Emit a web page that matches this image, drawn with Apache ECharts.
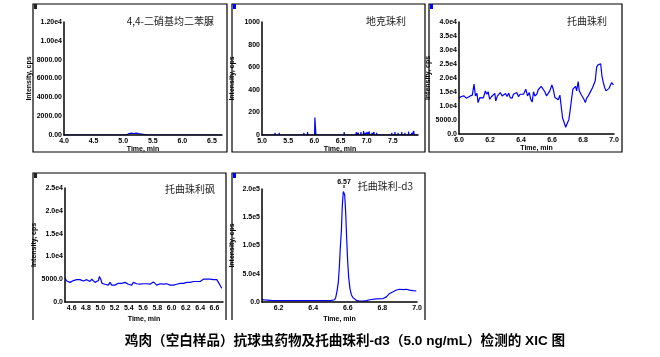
<!DOCTYPE html>
<html><head><meta charset="utf-8">
<script src="https://cdn.jsdelivr.net/npm/echarts@6/dist/echarts.min.js"></script>
<style>html,body{margin:0;padding:0;background:#fff}#c{width:660px;height:357px}</style>
</head><body><div id="c"></div>
<script>
// ---------- data ----------
const names = ['4,4-二硝基均二苯脲', '地克珠利', '托曲珠利', '托曲珠利砜', '托曲珠利-d3'];
const chartTitle = '鸡肉（空白样品）抗球虫药物及托曲珠利-d3（5.0 ng/mL）检测的 XIC 图';

// panel 1: 4,4-dinitrocarbanilide
const t1 = [4.0, 4.515, 4.52, 4.525, 4.765, 4.77, 4.775,
  5.055, 5.06, 5.1, 5.14, 5.18, 5.22, 5.26, 5.265,
  5.405, 5.41, 5.415, 5.595, 5.6, 5.605, 5.645, 5.65, 5.655,
  5.725, 5.73, 5.735, 5.775, 5.78, 5.785, 5.905, 5.91, 5.915,
  5.945, 5.95, 5.955, 5.985, 5.99, 5.995, 6.025, 6.03, 6.035,
  6.185, 6.19, 6.195, 6.265, 6.27, 6.275, 6.355, 6.36, 6.365,
  6.495, 6.5, 6.505, 6.67];
const v1 = [0, 0, 150, 0, 0, 150, 0,
  0, 200, 150, 200, 150, 200, 150, 0,
  0, 150, 0, 0, 150, 0, 0, 150, 0,
  0, 200, 0, 0, 150, 0, 0, 150, 0,
  0, 200, 0, 0, 150, 0, 0, 150, 0,
  0, 150, 0, 0, 150, 0, 0, 150, 0,
  0, 200, 0, 0];

// panel 2: diclazuril
const t2 = [5.0, 5.245, 5.25, 5.255, 5.325, 5.33, 5.335, 5.355, 5.36, 5.365,
  5.515, 5.52, 5.525, 5.795, 5.8, 5.805, 5.865, 5.87, 5.875, 5.915, 5.92, 5.925,
  6.005, 6.01, 6.025, 6.03,
  6.155, 6.16, 6.165, 6.235, 6.24, 6.245, 6.405, 6.41, 6.415, 6.475, 6.48, 6.485,
  6.565, 6.57, 6.575, 6.595, 6.6, 6.605,
  6.795, 6.8, 6.805, 6.835, 6.84, 6.845, 6.885, 6.89, 6.895, 6.935, 6.94, 6.945,
  6.965, 6.97, 6.975, 7.005, 7.01, 7.015, 7.045, 7.05, 7.055, 7.095, 7.1, 7.105,
  7.135, 7.14, 7.145, 7.185, 7.19, 7.195, 7.285, 7.29, 7.295,
  7.475, 7.48, 7.485, 7.535, 7.54, 7.545, 7.595, 7.6, 7.605, 7.665, 7.67, 7.675,
  7.725, 7.73, 7.735, 7.795, 7.8, 7.805, 7.855, 7.86, 7.865, 7.895, 7.9, 7.905, 7.98];
const v2 = [0, 0, 20, 0, 0, 20, 0, 0, 15, 0,
  0, 15, 0, 0, 20, 0, 0, 25, 0, 0, 15, 0,
  0, 155, 150, 0,
  0, 15, 0, 0, 15, 0, 0, 15, 0, 0, 15, 0,
  0, 25, 0, 0, 15, 0,
  0, 25, 0, 0, 20, 0, 0, 25, 0, 0, 35, 0,
  0, 20, 0, 0, 25, 0, 0, 30, 0, 0, 20, 0,
  0, 25, 0, 0, 20, 0, 0, 15, 0,
  0, 20, 0, 0, 25, 0, 0, 20, 0, 0, 25, 0,
  0, 20, 0, 0, 30, 0, 0, 20, 0, 0, 35, 0, 0];

// panel 3: toltrazuril
const t3 = [6.000, 6.015, 6.032, 6.047, 6.058, 6.073, 6.086, 6.097, 6.106, 6.116,
  6.123, 6.134, 6.144, 6.157, 6.170, 6.179, 6.188, 6.198, 6.209, 6.220,
  6.231, 6.237, 6.248, 6.256, 6.267, 6.278, 6.289, 6.300, 6.310, 6.321,
  6.330, 6.343, 6.351, 6.362, 6.373, 6.384, 6.394, 6.403, 6.416, 6.431,
  6.442, 6.453, 6.463, 6.472, 6.481, 6.489, 6.502, 6.511, 6.522, 6.530,
  6.541, 6.554, 6.565, 6.575, 6.586, 6.599, 6.608, 6.619, 6.629, 6.640,
  6.651, 6.659, 6.668, 6.679, 6.688, 6.698, 6.709, 6.718, 6.726, 6.735,
  6.744, 6.752, 6.759, 6.769, 6.776, 6.787, 6.795, 6.806, 6.815, 6.823,
  6.834, 6.843, 6.851, 6.862, 6.871, 6.879, 6.888, 6.897, 6.905, 6.914,
  6.922, 6.931, 6.940, 6.948, 6.959, 6.968, 6.976, 6.985, 6.996];
const v3 = [12800, 13400, 13600, 12800, 12400, 13600, 13900, 17800, 13600, 14500,
  11200, 13000, 12400, 12900, 15400, 14200, 15100, 12400, 13300, 13000,
  14500, 11800, 13600, 13000, 14800, 13600, 13000, 14500, 13400, 14600,
  13000, 12800, 14200, 14000, 14800, 13300, 14200, 14500, 14200, 16000,
  13600, 14800, 12400, 11400, 15100, 13600, 14200, 15800, 15400, 17000,
  16300, 15100, 13600, 14200, 15400, 17500, 16000, 13000, 13400, 12200,
  13900, 10000, 5800, 4000, 2400, 3000, 5200, 8800, 12400, 16000,
  16600, 17000, 15400, 18700, 15400, 14200, 13600, 12400, 11200, 12700,
  13600, 14600, 15400, 16600, 16300, 19000, 23900, 24700, 24500, 25100,
  20800, 18400, 16600, 15400, 15400, 16300, 17000, 18400, 17500];

// panel 4: toltrazuril sulfone
const t4 = [4.507, 4.530, 4.553, 4.577, 4.600, 4.623, 4.647, 4.670, 4.693, 4.717,
  4.740, 4.764, 4.787, 4.810, 4.834, 4.857, 4.880, 4.904, 4.927, 4.950,
  4.974, 4.988, 5.007, 5.025, 5.044, 5.067, 5.091, 5.114, 5.137, 5.161,
  5.184, 5.207, 5.231, 5.254, 5.278, 5.301, 5.324, 5.348, 5.371, 5.394,
  5.418, 5.441, 5.464, 5.488, 5.511, 5.535, 5.558, 5.581, 5.605, 5.628,
  5.651, 5.675, 5.698, 5.721, 5.745, 5.768, 5.792, 5.815, 5.838, 5.862,
  5.885, 5.908, 5.932, 5.955, 5.979, 6.002, 6.025, 6.049, 6.072, 6.095,
  6.119, 6.142, 6.165, 6.189, 6.212, 6.236, 6.259, 6.282, 6.306, 6.329,
  6.352, 6.376, 6.399, 6.422, 6.446, 6.469, 6.493, 6.516, 6.539, 6.563,
  6.586, 6.609, 6.633, 6.656, 6.679, 6.703];
const v4 = [5200, 4600, 4500, 4300, 4600, 4700, 4500, 4900, 4600, 4900,
  4700, 4600, 4700, 4900, 4700, 4500, 5000, 4900, 4300, 4500,
  4700, 5600, 5000, 4100, 4400, 3900, 4100, 3700, 4300, 3700,
  4000, 3700, 4000, 4100, 3900, 4100, 4000, 4300, 4000, 3900,
  4100, 3700, 4300, 4100, 4000, 4100, 3900, 4100, 4000, 4100,
  4000, 4100, 3900, 4000, 4400, 4100, 3700, 4100, 4000, 4100,
  3900, 4100, 4000, 4000, 3700, 3900, 3700, 4000, 3900, 4000,
  4100, 4000, 4100, 4100, 4300, 4100, 4300, 4100, 4500, 4300,
  4500, 4700, 4500, 4700, 5000, 4600, 5000, 5400, 5000, 5200,
  4900, 4700, 4900, 4300, 4000, 3000];

// panel 5: toltrazuril-d3
const t5 = [6.104, 6.120, 6.150, 6.167, 6.200, 6.250, 6.300, 6.350, 6.400, 6.450,
  6.500, 6.524, 6.530, 6.538, 6.545, 6.551, 6.557, 6.563, 6.568, 6.574,
  6.578, 6.582, 6.588, 6.593, 6.599, 6.605, 6.613, 6.621, 6.630, 6.649,
  6.669, 6.688, 6.707, 6.727, 6.765, 6.804, 6.823, 6.842, 6.862, 6.881,
  6.900, 6.919, 6.939, 6.958, 6.977, 6.996];
const v5 = [4300, 3600, 3000, 2400, 2400, 2400, 2400, 2400, 2400, 2400,
  2400, 4000, 7800, 19700, 34600, 61500, 97300, 127000, 168900, 195700,
  199000, 189700, 156900, 115200, 73400, 43600, 22700, 12500, 7800, 3000,
  1800, 1500, 2500, 4000, 5500, 6100, 9100, 15200, 18300, 21300,
  22600, 22000, 22600, 21000, 20000, 19500];
const peakLabel = '6.57';

// tick values
const xTicks1 = [4.0, 4.5, 5.0, 5.5, 6.0, 6.5];
const xTicks2 = [5.0, 5.5, 6.0, 6.5, 7.0, 7.5];
const xTicks3 = [6.0, 6.2, 6.4, 6.6, 6.8, 7.0];
const xTicks4 = [4.6, 4.8, 5.0, 5.2, 5.4, 5.6, 5.8, 6.0, 6.2, 6.4, 6.6];
const xTicks5 = [6.2, 6.4, 6.6, 6.8, 7.0];
const yTicks1 = [0, 2000, 4000, 6000, 8000, 10000, 12000];
const yTicks2 = [0, 200, 400, 600, 800, 1000];
const yTicks3 = [0, 5000, 10000, 15000, 20000, 25000, 30000, 35000, 40000];
const yTicks4 = [0, 5000, 10000, 15000, 20000, 25000];
const yTicks5 = [0, 50000, 100000, 150000, 200000];

// ---------- chart ----------
const F = '"Liberation Sans", Arial, sans-serif';
const CJK = '"Noto Sans CJK SC", "Liberation Sans", sans-serif';
const fmtY1 = v => v >= 1e4 ? (v / 1e4).toFixed(2) + 'e4' : v.toFixed(2);
const fmtY2 = v => String(Math.round(v));
const fmtY3 = v => v >= 1e4 ? (v / 1e4).toFixed(1) + 'e4' : v.toFixed(1);
const fmtY5 = v => v >= 1e5 ? (v / 1e5).toFixed(1) + 'e5' : (v > 0 ? (v / 1e4).toFixed(1) + 'e4' : '0.0');

const panels = [
  {grid: {left: 64, top: 22, width: 158, height: 113}, xmin: 4.0, xmax: 6.67, xt: xTicks1, yt: yTicks1, fy: fmtY1, t: t1, v: v1, nameGapX: 10},
  {grid: {left: 262, top: 22, width: 156, height: 113}, xmin: 5.0, xmax: 7.98, xt: xTicks2, yt: yTicks2, fy: fmtY2, t: t2, v: v2, nameGapX: 10},
  {grid: {left: 459, top: 22, width: 155, height: 112}, xmin: 6.0, xmax: 7.0, xt: xTicks3, yt: yTicks3, fy: fmtY3, t: t3, v: v3, nameGapX: 10},
  {grid: {left: 65, top: 188, width: 158, height: 114}, xmin: 4.506, xmax: 6.72, xt: xTicks4, yt: yTicks4, fy: fmtY3, t: t4, v: v4, nameGapX: 14},
  {grid: {left: 262, top: 189, width: 155, height: 113}, xmin: 6.104, xmax: 7.0, xt: xTicks5, yt: yTicks5, fy: fmtY5, t: t5, v: v5, nameGapX: 14}
];

const labelStyle = {fontSize: 7, fontWeight: 'bold', color: '#000', fontFamily: F};
const nameStyle = {fontSize: 7, fontWeight: 'bold', color: '#000', fontFamily: F};

const option = {
  animation: false,
  backgroundColor: '#fff',
  grid: panels.map(p => Object.assign({containLabel: false}, p.grid)),
  xAxis: panels.map((p, i) => ({
    type: 'value', gridIndex: i, min: p.xmin, max: p.xmax, z: 5,
    axisLine: {show: true, onZero: false, lineStyle: {color: '#000', width: 1.5}},
    axisTick: {show: false}, splitLine: {show: false},
    axisLabel: Object.assign({customValues: p.xt, margin: 3, formatter: v => v.toFixed(1)}, labelStyle),
    name: 'Time, min', nameLocation: 'middle', nameGap: p.nameGapX, nameTextStyle: nameStyle
  })),
  yAxis: panels.map((p, i) => ({
    type: 'value', gridIndex: i, min: 0, max: p.yt[p.yt.length - 1], z: 5,
    axisLine: {show: true, lineStyle: {color: '#000', width: 1.5}},
    axisTick: {show: false}, splitLine: {show: false},
    axisLabel: Object.assign({customValues: p.yt, margin: 2, formatter: p.fy}, labelStyle),
    name: 'Intensity, cps', nameLocation: 'middle', nameGap: 26, nameTextStyle: nameStyle
  })),
  series: panels.map((p, i) => {
    const s = {
      type: 'line', xAxisIndex: i, yAxisIndex: i, showSymbol: false, symbol: 'none',
      lineStyle: {color: '#0000ff', width: 1.2},
      data: p.t.map((t, k) => [t, p.v[k]])
    };
    if (i === 4) {
      s.markPoint = {
        symbol: 'rect', symbolSize: [1, 3], symbolOffset: [0, -3],
        itemStyle: {color: '#000'},
        data: [{type: 'max', valueDim: 'y'}],
        label: {show: true, position: 'top', distance: 0, formatter: peakLabel, fontSize: 7, fontWeight: 'bold', color: '#000', fontFamily: F}
      };
    }
    return s;
  }),
  graphic: [
    {type: 'rect', shape: {x: 33, y: 4, width: 194, height: 148}, style: {fill: 'none', stroke: '#000', lineWidth: 1.2}, silent: true},
    {type: 'rect', shape: {x: 232, y: 4, width: 193, height: 148}, style: {fill: 'none', stroke: '#000', lineWidth: 1.2}, silent: true},
    {type: 'rect', shape: {x: 429, y: 4, width: 193, height: 148}, style: {fill: 'none', stroke: '#000', lineWidth: 1.2}, silent: true},
    {type: 'polyline', shape: {points: [[33, 320], [33, 173], [226, 173], [226, 320]]}, style: {fill: 'none', stroke: '#000', lineWidth: 1.2}, silent: true},
    {type: 'polyline', shape: {points: [[232, 320], [232, 173], [425, 173], [425, 320]]}, style: {fill: 'none', stroke: '#000', lineWidth: 1.2}, silent: true},
    {type: 'rect', shape: {x: 34, y: 4, width: 3, height: 5}, style: {fill: '#222'}, silent: true},
    {type: 'rect', shape: {x: 233, y: 4, width: 3, height: 5}, style: {fill: '#0000ff'}, silent: true},
    {type: 'rect', shape: {x: 430, y: 4, width: 3, height: 5}, style: {fill: '#0000ff'}, silent: true},
    {type: 'rect', shape: {x: 34, y: 173, width: 3, height: 5}, style: {fill: '#222'}, silent: true},
    {type: 'rect', shape: {x: 233, y: 173, width: 3, height: 5}, style: {fill: '#0000ff'}, silent: true},
    {type: 'text', right: 660 - 214, top: 16, style: {text: names[0], font: '10px ' + CJK, fill: '#222'}},
    {type: 'text', right: 660 - 406, top: 16, style: {text: names[1], font: '10px ' + CJK, fill: '#222'}},
    {type: 'text', right: 660 - 607, top: 16, style: {text: names[2], font: '10px ' + CJK, fill: '#222'}},
    {type: 'text', right: 660 - 215, top: 184, style: {text: names[3], font: '10px ' + CJK, fill: '#222'}},
    {type: 'text', right: 660 - 413, top: 181, style: {text: names[4], font: '10px ' + CJK, fill: '#222'}},
    {type: 'text', x: 345, y: 341, style: {text: chartTitle, font: 'bold 13.6px "Liberation Sans", "Noto Sans CJK SC", sans-serif', fill: '#000', textAlign: 'center', textVerticalAlign: 'middle'}}
  ]
};
const chart = echarts.init(document.getElementById('c'), null, {renderer: 'canvas'});
chart.setOption(option);
</script>
</body></html>
